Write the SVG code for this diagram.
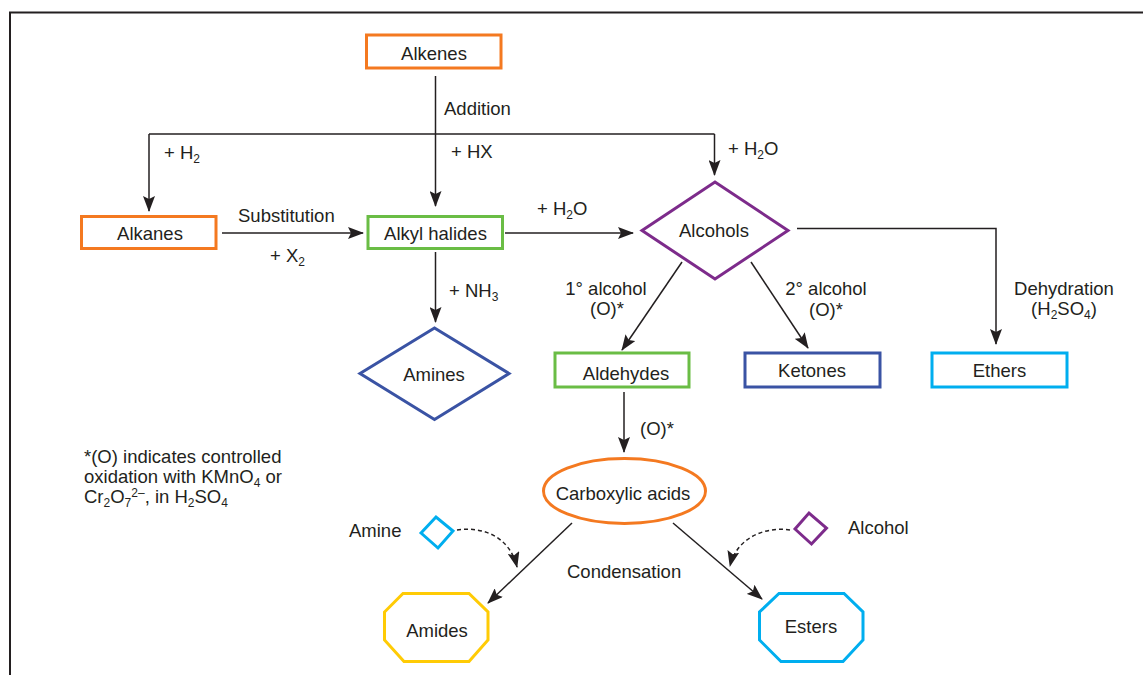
<svg xmlns="http://www.w3.org/2000/svg" width="1143" height="675" viewBox="0 0 1143 675">
<defs>
<marker id="arr" viewBox="0 0 16 12" refX="15" refY="6" markerWidth="16" markerHeight="12" markerUnits="userSpaceOnUse" orient="auto">
<path d="M0,0 L16,6 L0,12 L3,6 Z" fill="#231F20"/>
</marker>
<style>
text{font-family:"Liberation Sans",Arial,sans-serif;font-size:18.5px;fill:#231F20}
.c{text-anchor:middle}
.sub{font-size:12px}
.ln{fill:none;stroke:#231F20;stroke-width:1.5}
.ar{marker-end:url(#arr)}
.dash{stroke-dasharray:4 3}
.node{fill:#fff;stroke-width:3}
.or{stroke:#F47920}
.gr{stroke:#6ABD45}
.pu{stroke:#7D2B8B}
.bl{stroke:#3A53A4}
.cy{stroke:#00AEEF}
.ye{stroke:#FFCB05}
</style>
</defs>
<rect width="1143" height="675" fill="#fff"/>
<path d="M10,675 V12.5 H1143" fill="none" stroke="#231F20" stroke-width="2"/>

<g id="connectors">
<path class="ln ar" d="M435.5,76 V206"/>
<path class="ln" d="M149,134 H714.5"/>
<path class="ln ar" d="M149,134 V211"/>
<path class="ln ar" d="M714.5,134 V175"/>
<path class="ln ar" d="M222,233 H363"/>
<path class="ln ar" d="M505,233 H633"/>
<path class="ln ar" d="M797,228.5 H996 V344"/>
<path class="ln ar" d="M435.5,252 V322"/>
<path class="ln ar" d="M682,262 L622,350"/>
<path class="ln ar" d="M751,262 L808,348"/>
<path class="ln ar" d="M624,392 V452"/>
<path class="ln ar" d="M572,523 L488,603"/>
<path class="ln ar" d="M673,523 L762,599"/>
<path class="ln ar dash" d="M457,530 C485,526 510,538 517,567"/>
<path class="ln ar dash" d="M790,530 C762,526 736,540 730,566"/>
</g>

<g id="alkenes"><rect class="node or" x="366.5" y="35" width="134.5" height="33"/><text class="c" x="434" y="60">Alkenes</text></g>
<g id="alkanes"><rect class="node or" x="81.5" y="216.5" width="134.5" height="32"/><text class="c" x="150" y="240">Alkanes</text></g>
<g id="alkyl-halides"><rect class="node gr" x="368" y="216.5" width="134.5" height="32"/><text class="c" x="435.5" y="240">Alkyl halides</text></g>
<g id="alcohols"><polygon class="node pu" points="642,230.5 715,182 788,230.5 715,279"/><text class="c" x="714" y="237">Alcohols</text></g>
<g id="amines"><polygon class="node bl" points="360,373.5 434.5,328 509,373.5 434.5,419.5" stroke-width="2.5"/><text class="c" x="434" y="381">Amines</text></g>
<g id="aldehydes"><rect class="node gr" x="555" y="353" width="134" height="34"/><text class="c" x="626" y="380">Aldehydes</text></g>
<g id="ketones"><rect class="node bl" x="745" y="353" width="135" height="34"/><text class="c" x="812" y="377">Ketones</text></g>
<g id="ethers"><rect class="node cy" x="932" y="353" width="135" height="34"/><text class="c" x="999.5" y="377">Ethers</text></g>
<g id="carboxylic-acids"><ellipse class="node or" cx="624.5" cy="491" rx="81" ry="32.5"/><text class="c" x="623" y="500">Carboxylic acids</text></g>
<g id="amides"><polygon class="node ye" points="403,593.5 469,593.5 488,612 488,640 469,661.5 404,661.5 384.5,640 384.5,612"/><text class="c" x="437" y="637">Amides</text></g>
<g id="esters"><polygon class="node cy" points="779,593.5 844,593.5 863,612 863,640 843,661.5 781,661.5 759.5,640 759.5,612"/><text class="c" x="811" y="633">Esters</text></g>
<g id="amine-reagent"><polygon class="node cy" points="421,533 436,517 453,531 438,548" stroke-width="2.5"/><text x="349" y="537">Amine</text></g>
<g id="alcohol-reagent"><polygon class="node pu" points="795,529 809,513 826.5,528 811.5,544" stroke-width="2.5"/><text x="848" y="534">Alcohol</text></g>

<g id="labels">
<text x="444" y="115">Addition</text>
<text x="164" y="159">+ H<tspan class="sub" dy="4">2</tspan></text>
<text x="451" y="158">+ HX</text>
<text x="728" y="155">+ H<tspan class="sub" dy="4">2</tspan><tspan dy="-4">O</tspan></text>
<text x="238" y="222">Substitution</text>
<text x="270" y="262">+ X<tspan class="sub" dy="4">2</tspan></text>
<text x="537" y="215">+ H<tspan class="sub" dy="4">2</tspan><tspan dy="-4">O</tspan></text>
<text x="449" y="297">+ NH<tspan class="sub" dy="4">3</tspan></text>
<text class="c" x="606" y="295">1° alcohol</text>
<text class="c" x="607" y="315">(O)*</text>
<text class="c" x="826" y="295">2° alcohol</text>
<text class="c" x="826" y="316">(O)*</text>
<text class="c" x="1064" y="295">Dehydration</text>
<text class="c" x="1064" y="315">(H<tspan class="sub" dy="4">2</tspan><tspan dy="-4">SO</tspan><tspan class="sub" dy="4">4</tspan><tspan dy="-4">)</tspan></text>
<text x="640" y="435">(O)*</text>
<text x="84" y="463">*(O) indicates controlled</text>
<text x="84" y="483">oxidation with KMnO<tspan class="sub" dy="4">4</tspan><tspan dy="-4"> or</tspan></text>
<text x="84" y="503">Cr<tspan class="sub" dy="4">2</tspan><tspan dy="-4">O</tspan><tspan class="sub" dy="4">7</tspan><tspan class="sub" dy="-10">2–</tspan><tspan dy="6">, in H</tspan><tspan class="sub" dy="4">2</tspan><tspan dy="-4">SO</tspan><tspan class="sub" dy="4">4</tspan></text>
<text x="567" y="578">Condensation</text>
</g>
</svg>
